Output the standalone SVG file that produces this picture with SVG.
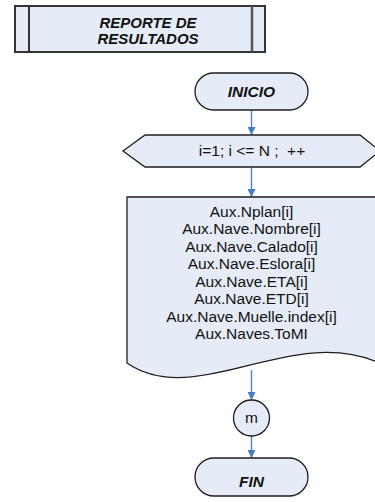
<svg xmlns="http://www.w3.org/2000/svg" width="375" height="502" viewBox="0 0 375 502">
  <style>
    .shape { fill: #e6ecf7; stroke: #1e1e1e; stroke-width: 1.3; }
    .txt { font-family: "Liberation Sans", Arial, sans-serif; font-size: 15.5px; fill: #111; text-anchor: middle; }
    .bi { font-weight: bold; font-style: italic; }
    .conn { stroke: #5b87c5; stroke-width: 1.5; fill: none; marker-end: url(#arrow); }
  </style>
  <defs>
    <marker id="arrow" viewBox="0 0 10 10" refX="10" refY="5" markerWidth="8" markerHeight="8" markerUnits="userSpaceOnUse" orient="auto">
      <path d="M0,0 L10,5 L0,10 z" fill="#4a7cc2"/>
    </marker>
  </defs>

  <g id="connectors">
    <line class="conn" x1="251.5" y1="110" x2="251.5" y2="135"/>
    <line class="conn" x1="251.5" y1="167" x2="251.5" y2="197"/>
    <line class="conn" x1="251.5" y1="370" x2="251.5" y2="400"/>
    <line class="conn" x1="251.5" y1="436" x2="251.5" y2="458"/>
  </g>

  <g id="report">
    <rect x="15" y="6" width="250" height="46" fill="#e6ecf7" stroke="#333" stroke-width="2"/>
    <line x1="29" y1="6" x2="29" y2="52" stroke="#333" stroke-width="2"/>
    <line x1="252" y1="6" x2="252" y2="52" stroke="#555" stroke-width="2.5"/>
    <text class="txt bi" x="148" y="28" style="font-size:15px">REPORTE DE</text>
    <text class="txt bi" x="148" y="44" style="font-size:15px">RESULTADOS</text>
  </g>

  <g id="inicio">
    <rect class="shape" x="195" y="73" width="113" height="37" rx="18.5"/>
    <text class="txt bi" x="251.5" y="97">INICIO</text>
  </g>

  <g id="loop">
    <polygon class="shape" points="123,151 145,135 360,135 380,151 360,167 145,167"/>
    <text class="txt" x="252" y="156" xml:space="preserve">i=1; i &lt;= N ;  ++</text>
  </g>

  <g id="output">
    <path class="shape" d="M127,197 L377,197 L377,362 C290,325 195,410 127,363 Z"/>
    <text class="txt" x="251.5" y="216.5">Aux.Nplan[i]</text>
    <text class="txt" x="251.5" y="234">Aux.Nave.Nombre[i]</text>
    <text class="txt" x="251.5" y="251.5">Aux.Nave.Calado[i]</text>
    <text class="txt" x="251.5" y="269">Aux.Nave.Eslora[i]</text>
    <text class="txt" x="251.5" y="286.5">Aux.Nave.ETA[i]</text>
    <text class="txt" x="251.5" y="304">Aux.Nave.ETD[i]</text>
    <text class="txt" x="251.5" y="321.5">Aux.Nave.Muelle.index[i]</text>
    <text class="txt" x="251.5" y="339">Aux.Naves.ToMI</text>
  </g>

  <g id="m">
    <circle class="shape" cx="251.5" cy="418" r="18"/>
    <text class="txt" x="251.5" y="423">m</text>
  </g>

  <g id="fin">
    <rect class="shape" x="195" y="458" width="113" height="38" rx="19"/>
    <text class="txt bi" x="251.5" y="487">FIN</text>
  </g>
</svg>
